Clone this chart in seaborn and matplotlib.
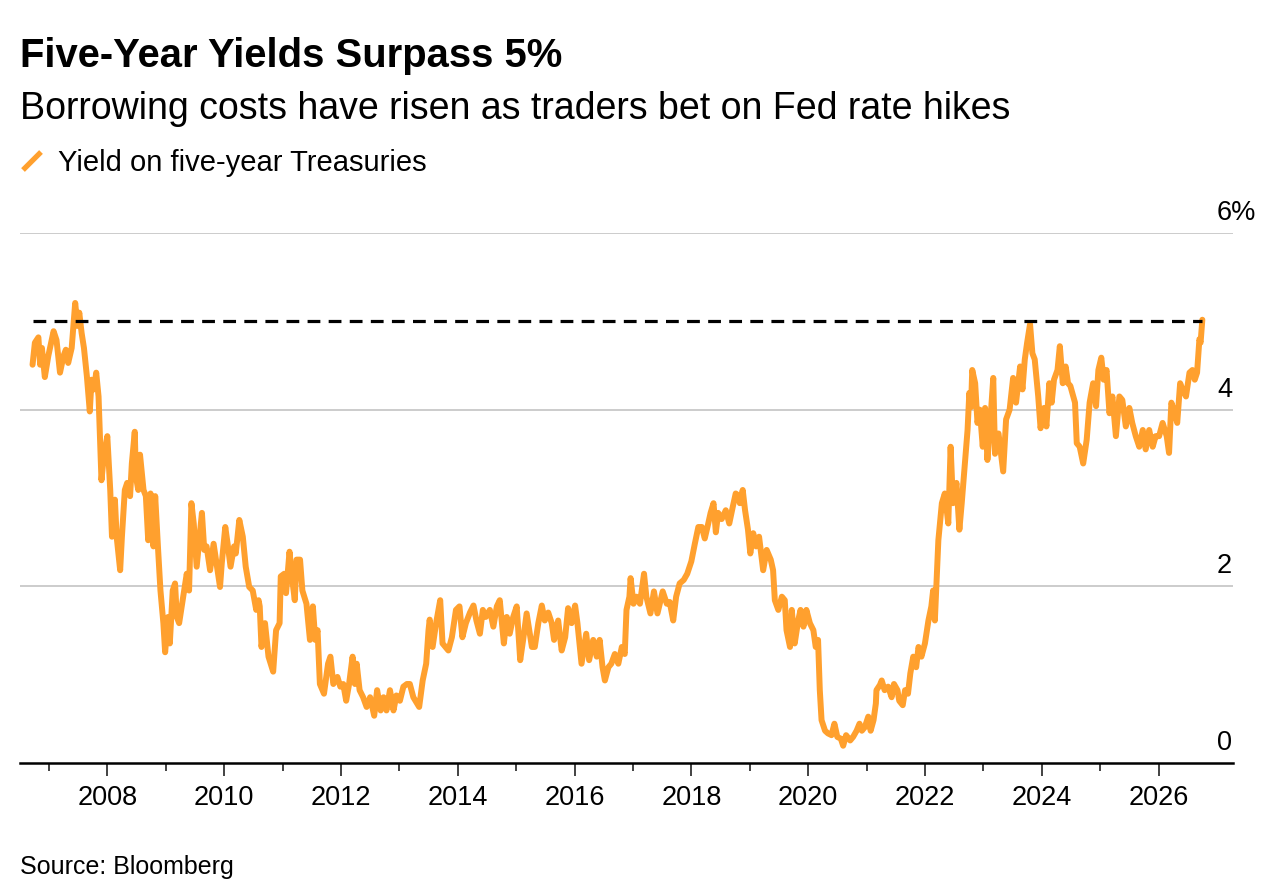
import numpy as np
import pandas as pd
import matplotlib
matplotlib.use('Agg')
import matplotlib.pyplot as plt
from matplotlib.lines import Line2D
import seaborn as sns

# values (x = position on the year axis, y = yield in %)
years_a = [2006.72, 2006.76, 2006.82, 2006.85, 2006.88, 2006.93, 2006.99, 2007.08, 2007.13, 2007.19,
           2007.25, 2007.29, 2007.33, 2007.39, 2007.45, 2007.49, 2007.52, 2007.56, 2007.60, 2007.65,
           2007.70, 2007.73, 2007.77, 2007.81, 2007.85, 2007.87, 2007.90, 2007.94, 2008.00, 2008.05,
           2008.08, 2008.13, 2008.16, 2008.22, 2008.25, 2008.30, 2008.34, 2008.39, 2008.42, 2008.47,
           2008.49, 2008.53, 2008.56, 2008.62, 2008.66, 2008.70, 2008.74, 2008.79, 2008.82, 2008.87,
           2008.91, 2008.96, 2008.99, 2009.04, 2009.07, 2009.12, 2009.16, 2009.19, 2009.23, 2009.30,
           2009.36, 2009.40, 2009.44, 2009.48, 2009.53, 2009.58, 2009.62, 2009.66, 2009.70, 2009.76,
           2009.82, 2009.87, 2009.93, 2009.96, 2010.02, 2010.06, 2010.11, 2010.17, 2010.20, 2010.26,
           2010.32, 2010.37, 2010.43, 2010.49, 2010.55, 2010.59]
yield_a = [4.51, 4.76, 4.82, 4.51, 4.70, 4.37, 4.61, 4.89, 4.79, 4.42,
           4.61, 4.68, 4.53, 4.70, 5.21, 4.95, 5.10, 4.87, 4.70, 4.38,
           3.98, 4.34, 4.23, 4.42, 4.15, 3.77, 3.20, 3.47, 3.70, 3.09,
           2.56, 2.98, 2.56, 2.18, 2.56, 3.09, 3.17, 3.02, 3.39, 3.75,
           3.24, 3.09, 3.49, 3.09, 3.02, 2.52, 3.05, 2.45, 3.02, 2.41,
           1.95, 1.58, 1.25, 1.65, 1.35, 1.95, 2.03, 1.65, 1.58, 1.88,
           2.14, 1.95, 2.94, 2.71, 2.22, 2.56, 2.83, 2.41, 2.45, 2.18,
           2.48, 2.26, 1.99, 2.26, 2.67, 2.48, 2.22, 2.45, 2.37, 2.75,
           2.56, 2.22, 1.99, 1.95, 1.73, 1.84]

years_b = [2010.61, 2010.64, 2010.70, 2010.76, 2010.84, 2010.89, 2010.95, 2010.97, 2011.03, 2011.06,
           2011.12, 2011.16, 2011.21, 2011.24, 2011.30, 2011.34, 2011.41, 2011.47, 2011.52, 2011.56,
           2011.60, 2011.64, 2011.71, 2011.78, 2011.82, 2011.87, 2011.94, 2011.99, 2012.04, 2012.09,
           2012.14, 2012.20, 2012.24, 2012.27, 2012.32, 2012.38, 2012.44, 2012.50, 2012.57, 2012.62,
           2012.68, 2012.73, 2012.78, 2012.84, 2012.90, 2012.95, 2013.01, 2013.07, 2013.13, 2013.18,
           2013.24, 2013.34, 2013.40, 2013.46, 2013.50, 2013.52, 2013.57, 2013.63, 2013.70, 2013.74,
           2013.84, 2013.90, 2013.97, 2014.03, 2014.08, 2014.14, 2014.21, 2014.27, 2014.32, 2014.38,
           2014.43, 2014.48, 2014.55, 2014.61, 2014.67]
yield_b = [1.77, 1.31, 1.58, 1.20, 1.03, 1.50, 1.58, 2.11, 2.14, 1.92,
           2.39, 2.11, 1.84, 2.30, 2.30, 1.95, 1.80, 1.39, 1.77, 1.39,
           1.50, 0.89, 0.78, 1.12, 1.20, 0.89, 0.97, 0.86, 0.89, 0.70,
           0.89, 1.20, 0.89, 1.12, 0.82, 0.74, 0.63, 0.74, 0.53, 0.82,
           0.59, 0.74, 0.59, 0.82, 0.59, 0.76, 0.70, 0.86, 0.89, 0.89,
           0.74, 0.63, 0.93, 1.12, 1.50, 1.62, 1.31, 1.58, 1.84, 1.35,
           1.27, 1.42, 1.73, 1.77, 1.42, 1.58, 1.70, 1.78, 1.61, 1.46,
           1.73, 1.65, 1.73, 1.54, 1.77]

years_c = [2014.72, 2014.79, 2014.84, 2014.89, 2014.95, 2015.01, 2015.07, 2015.12, 2015.18, 2015.27,
           2015.32, 2015.38, 2015.44, 2015.49, 2015.55, 2015.61, 2015.65, 2015.72, 2015.78, 2015.84,
           2015.89, 2015.95, 2016.01, 2016.05, 2016.12, 2016.20, 2016.25, 2016.32, 2016.38, 2016.43,
           2016.48, 2016.52, 2016.58, 2016.63, 2016.69, 2016.75, 2016.81, 2016.86, 2016.89, 2016.94,
           2016.96, 2017.01, 2017.06, 2017.12, 2017.19, 2017.23, 2017.30, 2017.36, 2017.42, 2017.51,
           2017.58, 2017.63, 2017.69, 2017.74, 2017.80, 2017.87, 2017.93, 2018.00, 2018.06, 2018.12,
           2018.18, 2018.23, 2018.29, 2018.33, 2018.38, 2018.42, 2018.46, 2018.52, 2018.59, 2018.65,
           2018.71, 2018.76, 2018.82]
yield_c = [1.84, 1.35, 1.65, 1.46, 1.65, 1.77, 1.16, 1.39, 1.69, 1.31,
           1.31, 1.58, 1.78, 1.61, 1.70, 1.58, 1.39, 1.61, 1.27, 1.42,
           1.75, 1.58, 1.78, 1.58, 1.12, 1.46, 1.16, 1.39, 1.20, 1.39,
           1.08, 0.93, 1.08, 1.12, 1.23, 1.12, 1.31, 1.23, 1.73, 1.88,
           2.09, 1.80, 1.88, 1.80, 2.14, 1.88, 1.69, 1.94, 1.69, 1.94,
           1.80, 1.82, 1.61, 1.88, 2.03, 2.07, 2.14, 2.28, 2.48, 2.67,
           2.67, 2.54, 2.71, 2.83, 2.94, 2.61, 2.83, 2.76, 2.86, 2.71,
           2.90, 3.05, 3.02]

years_d = [2018.83, 2018.88, 2018.92, 2018.97, 2019.01, 2019.06, 2019.11, 2019.16, 2019.23, 2019.29,
           2019.36, 2019.40, 2019.43, 2019.49, 2019.55, 2019.60, 2019.63, 2019.69, 2019.72, 2019.77,
           2019.83, 2019.87, 2019.92, 2019.97, 2020.03, 2020.09, 2020.13, 2020.17, 2020.20, 2020.23,
           2020.29, 2020.34, 2020.40, 2020.45, 2020.50, 2020.56, 2020.60, 2020.65, 2020.72, 2020.77,
           2020.83, 2020.88, 2020.92, 2020.97, 2021.03, 2021.07, 2021.12, 2021.16, 2021.17, 2021.23,
           2021.26, 2021.31, 2021.37, 2021.43, 2021.47, 2021.53, 2021.56, 2021.62, 2021.66, 2021.71,
           2021.75, 2021.80, 2021.85, 2021.89, 2021.94, 2022.00, 2022.06, 2022.11, 2022.14, 2022.17,
           2022.20, 2022.23, 2022.29, 2022.34, 2022.40, 2022.44, 2022.48, 2022.54, 2022.59, 2022.63,
           2022.68, 2022.73, 2022.76, 2022.79, 2022.81, 2022.86, 2022.90]
yield_d = [2.94, 3.09, 2.86, 2.64, 2.37, 2.60, 2.45, 2.56, 2.18, 2.41,
           2.30, 2.18, 1.84, 1.73, 1.88, 1.84, 1.50, 1.31, 1.73, 1.35,
           1.61, 1.73, 1.54, 1.73, 1.58, 1.50, 1.31, 1.39, 0.82, 0.48,
           0.36, 0.33, 0.31, 0.44, 0.29, 0.27, 0.19, 0.31, 0.25, 0.29,
           0.36, 0.44, 0.36, 0.40, 0.52, 0.36, 0.48, 0.67, 0.82, 0.88,
           0.93, 0.82, 0.86, 0.74, 0.89, 0.82, 0.70, 0.65, 0.82, 0.78,
           1.01, 1.20, 1.08, 1.31, 1.20, 1.35, 1.61, 1.77, 1.95, 1.61,
           2.07, 2.52, 2.94, 3.05, 2.71, 3.58, 2.94, 3.17, 2.64, 2.94,
           3.36, 3.77, 4.19, 4.03, 4.45, 4.30, 3.85]

years_e = [2022.94, 2022.99, 2023.03, 2023.07, 2023.11, 2023.17, 2023.20, 2023.26, 2023.34, 2023.39,
           2023.45, 2023.51, 2023.56, 2023.63, 2023.67, 2023.71, 2023.75, 2023.80, 2023.84, 2023.88,
           2023.94, 2023.98, 2024.04, 2024.08, 2024.13, 2024.17, 2024.21, 2024.27, 2024.31, 2024.36,
           2024.41, 2024.45, 2024.49, 2024.57, 2024.60, 2024.65, 2024.71, 2024.77, 2024.82, 2024.88,
           2024.93, 2024.97, 2025.02, 2025.06, 2025.11, 2025.16, 2025.21, 2025.27, 2025.33, 2025.38,
           2025.44, 2025.50, 2025.55, 2025.61, 2025.67, 2025.73, 2025.78, 2025.84, 2025.90, 2025.95,
           2026.01, 2026.07, 2026.14, 2026.18, 2026.22, 2026.28, 2026.32, 2026.37, 2026.41, 2026.47,
           2026.53, 2026.58, 2026.62, 2026.66, 2026.70, 2026.72, 2026.75]
yield_e = [4.00, 3.58, 4.02, 3.43, 3.77, 4.36, 3.50, 3.73, 3.30, 3.89,
           4.00, 4.36, 4.08, 4.49, 4.23, 4.57, 4.76, 4.97, 4.64, 4.57,
           4.15, 3.79, 4.02, 3.81, 4.30, 4.08, 4.34, 4.45, 4.72, 4.30,
           4.49, 4.30, 4.27, 4.08, 3.62, 3.58, 3.39, 3.66, 4.08, 4.30,
           4.04, 4.45, 4.59, 4.34, 4.45, 3.96, 4.15, 3.70, 4.15, 4.11,
           3.81, 4.02, 3.85, 3.70, 3.58, 3.77, 3.55, 3.77, 3.58, 3.70,
           3.70, 3.85, 3.70, 3.51, 4.08, 3.96, 3.85, 4.30, 4.23, 4.15,
           4.42, 4.45, 4.34, 4.42, 4.80, 4.76, 5.02]

threshold = 5.0
x_major = [2008, 2010, 2012, 2014, 2016, 2018, 2020, 2022, 2024, 2026]
x_minor = [2007, 2009, 2011, 2013, 2015, 2017, 2019, 2021, 2023, 2025]
y_ticks = [0, 2, 4, 6]
y_labels = ['0', '2', '4', '6%']

df = pd.DataFrame({
    'year': np.concatenate([years_a, years_b, years_c, years_d, years_e]),
    'yield': np.concatenate([yield_a, yield_b, yield_c, yield_d, yield_e]),
})

orange = '#ffa02e'

sns.set_theme(style='white')
plt.rcParams['font.family'] = ['Liberation Sans', 'DejaVu Sans']

W, H = 1276, 896
fig = plt.figure(figsize=(W / 100, H / 100), dpi=100)
ax = fig.add_axes([20 / W, (H - 762.5) / H, (1232.7 - 20) / W, (762.5 - 233.3) / H])

# grid lines
for v in y_ticks[1:]:
    ax.axhline(v, color='#cccccc', lw=1.4, zorder=0)

sns.lineplot(data=df, x='year', y='yield', ax=ax, color=orange, linewidth=4.3,
             estimator=None, sort=False, zorder=3)

ax.plot([df['year'].iloc[0], df['year'].iloc[-1]], [threshold, threshold],
        color='black', lw=2.3, ls=(0, (4, 2.6)), zorder=4)

ax.set_xlim(2006.505, 2027.27)
ax.set_ylim(0, 6)
ax.set_xlabel('')
ax.set_ylabel('')

for s in ['left', 'top', 'right']:
    ax.spines[s].set_visible(False)
ax.spines['bottom'].set_color('black')
ax.spines['bottom'].set_linewidth(1.8)

ax.set_xticks(x_major)
ax.set_xticklabels([str(y) for y in x_major])
ax.set_xticks(x_minor, minor=True)
ax.tick_params(axis='x', which='major', length=9.5, width=1.2, color='#222222',
               direction='out', labelsize=19.5, pad=7, labelcolor='black', bottom=True)
ax.tick_params(axis='x', which='minor', length=5.5, width=1.2, color='#222222',
               direction='out', bottom=True)
ax.set_yticks([])

for v, lbl in zip(y_ticks, y_labels):
    ax.annotate(lbl, xy=(1, v), xycoords=('axes fraction', 'data'),
                xytext=(-15.7, 13), textcoords='offset pixels',
                ha='left', va='baseline', fontsize=19.5, color='black')

# header
fig.text(20 / W, 1 - 67 / H, 'Five-Year Yields Surpass 5%', fontsize=28.8,
         fontweight='bold', color='black', va='baseline', ha='left')
fig.text(20 / W, 1 - 119 / H, 'Borrowing costs have risen as traders bet on Fed rate hikes',
         fontsize=27, color='black', va='baseline', ha='left')
fig.add_artist(Line2D([23 / W, 41 / W], [1 - 170 / H, 1 - 152 / H], transform=fig.transFigure,
                      color=orange, lw=3.8, solid_capstyle='butt'))
fig.text(58 / W, 1 - 171 / H, 'Yield on five-year Treasuries', fontsize=21,
         color='black', va='baseline', ha='left')

fig.text(20 / W, 1 - 874 / H, 'Source: Bloomberg', fontsize=18, color='black',
         va='baseline', ha='left')

fig.savefig('out.png', dpi=100)
